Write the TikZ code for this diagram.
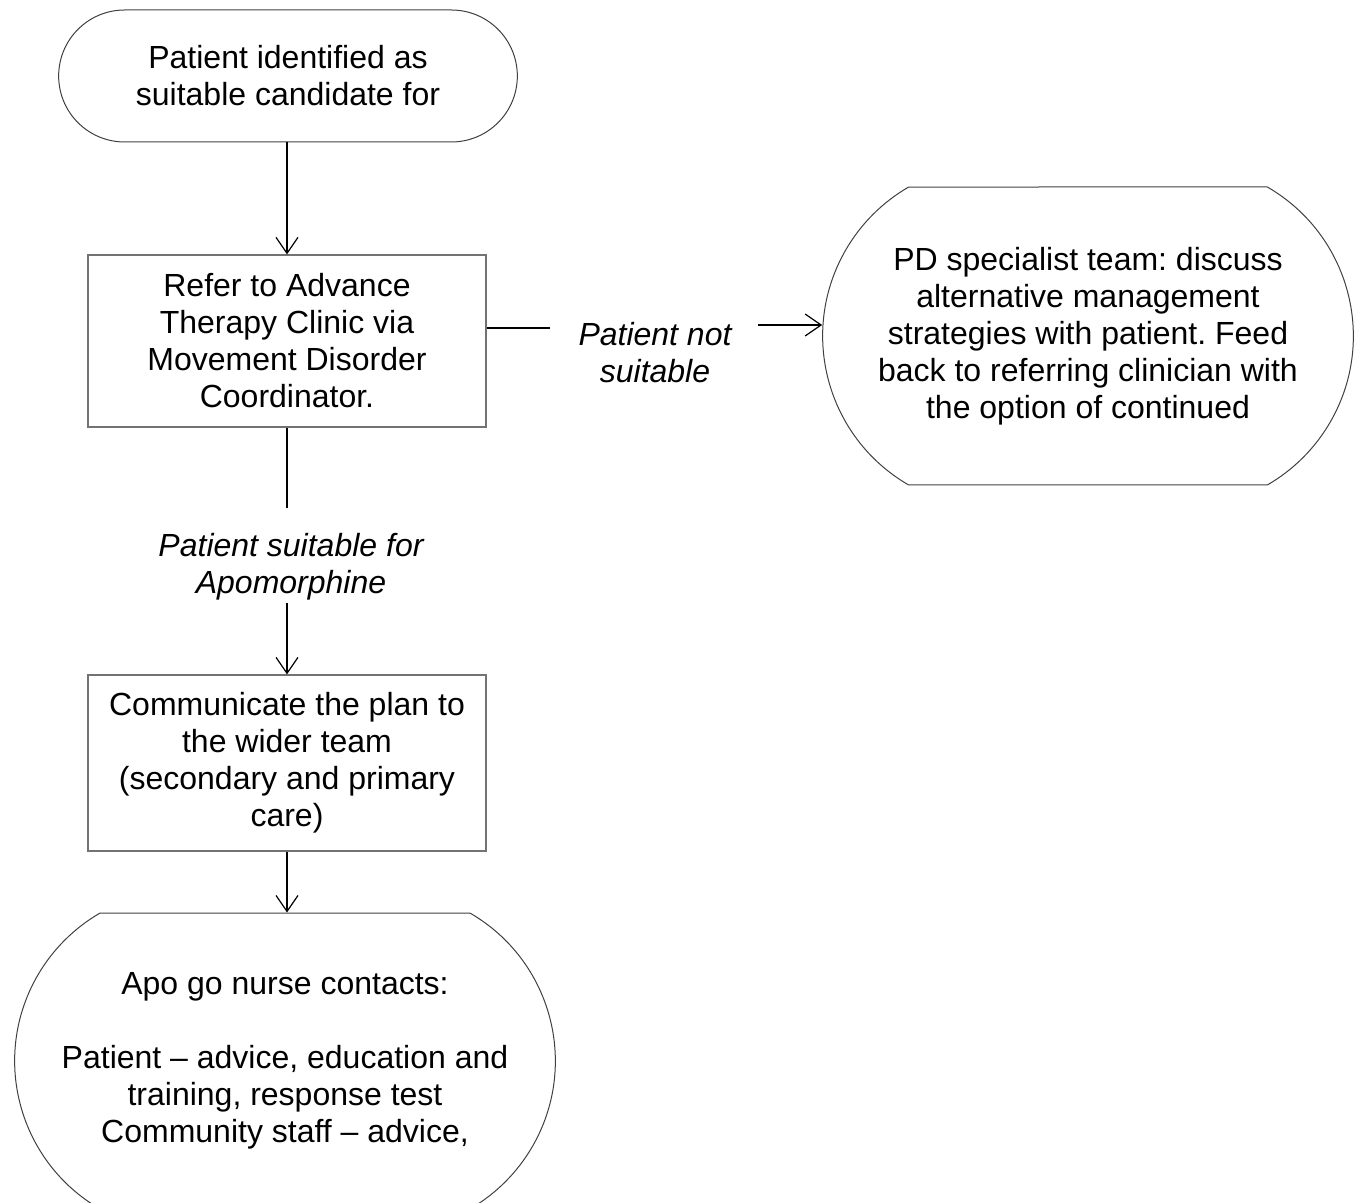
\documentclass[tikz,border=0pt]{standalone}
\usepackage{fontspec}
\setmainfont{Liberation Sans}
\usetikzlibrary{shapes.misc,arrows.meta}
\frenchspacing

\tikzset{%
  terminal/.style={
    rounded rectangle,
    rounded rectangle arc length=120,
    draw=black!75,
    line width=0.5pt,
    align=center,
    font=\fontsize{16}{18.5}\selectfont
  },
  stepbox/.style={
    rectangle,
    draw=black!55,
    line width=0.6pt,
    align=center,
    font=\fontsize{16}{18.5}\selectfont
  },
  choice/.style={
    align=center,
    inner sep=1pt,
    font=\fontsize{16}{18.5}\selectfont\itshape
  },
  flow/.style={
    line width=0.6pt,
    -{Straight Barb[length=8pt,width=11pt]}
  },
  branch/.style={
    line width=1.3pt
  },
}

\begin{document}
\begin{tikzpicture}[x=0.5pt,y=-0.5pt]
\useasboundingbox (0,0) rectangle (1367,1203);
% nodes
\node[terminal, rounded rectangle arc length=180, minimum width=236pt, minimum height=66pt] (start) at (288,76) {Patient identified as\\suitable candidate for};
\node[stepbox, minimum width=199pt, minimum height=86pt] (refer) at (287,341) {Refer to Advance\\Therapy Clinic via\\Movement Disorder\\Coordinator.};
\node[choice] (yeslbl) at (291,567) {Patient suitable for\\Apomorphine};
\node[stepbox, minimum width=199pt, minimum height=88pt] (comm) at (287,763) {Communicate the plan to\\the wider team\\(secondary and primary\\care)};
\node[terminal, minimum width=277pt, minimum height=148pt] (nurse) at (285,1061) {Apo go nurse contacts:\\[18.5pt]Patient -- advice, education and\\training, response test\\Community staff -- advice,};
\node[choice] (nolbl) at (655,353) {Patient not\\suitable};
\node[terminal, minimum width=272pt, minimum height=149pt] (pdteam) at (1088,336) {PD specialist team: discuss\\alternative management\\strategies with patient. Feed\\back to referring clinician with\\the option of continued};
\coordinate (yesgap) at (288,508);
\coordinate (nogap) at (550,328);
\coordinate (noarrow) at (758,325);
% connectors
\draw[flow] (start.south -| refer.north) -- (refer.north);
\draw[branch] (refer.south) -- (refer.south |- yesgap);
\draw[flow] (yeslbl.south -| comm.north) -- (comm.north);
\draw[flow] (comm.south) -- (comm.south |- nurse.north);
\draw[branch] (refer.east |- nogap) -- (nogap);
\draw[flow] (noarrow) -- (pdteam.west |- noarrow);
\end{tikzpicture}
\end{document}
